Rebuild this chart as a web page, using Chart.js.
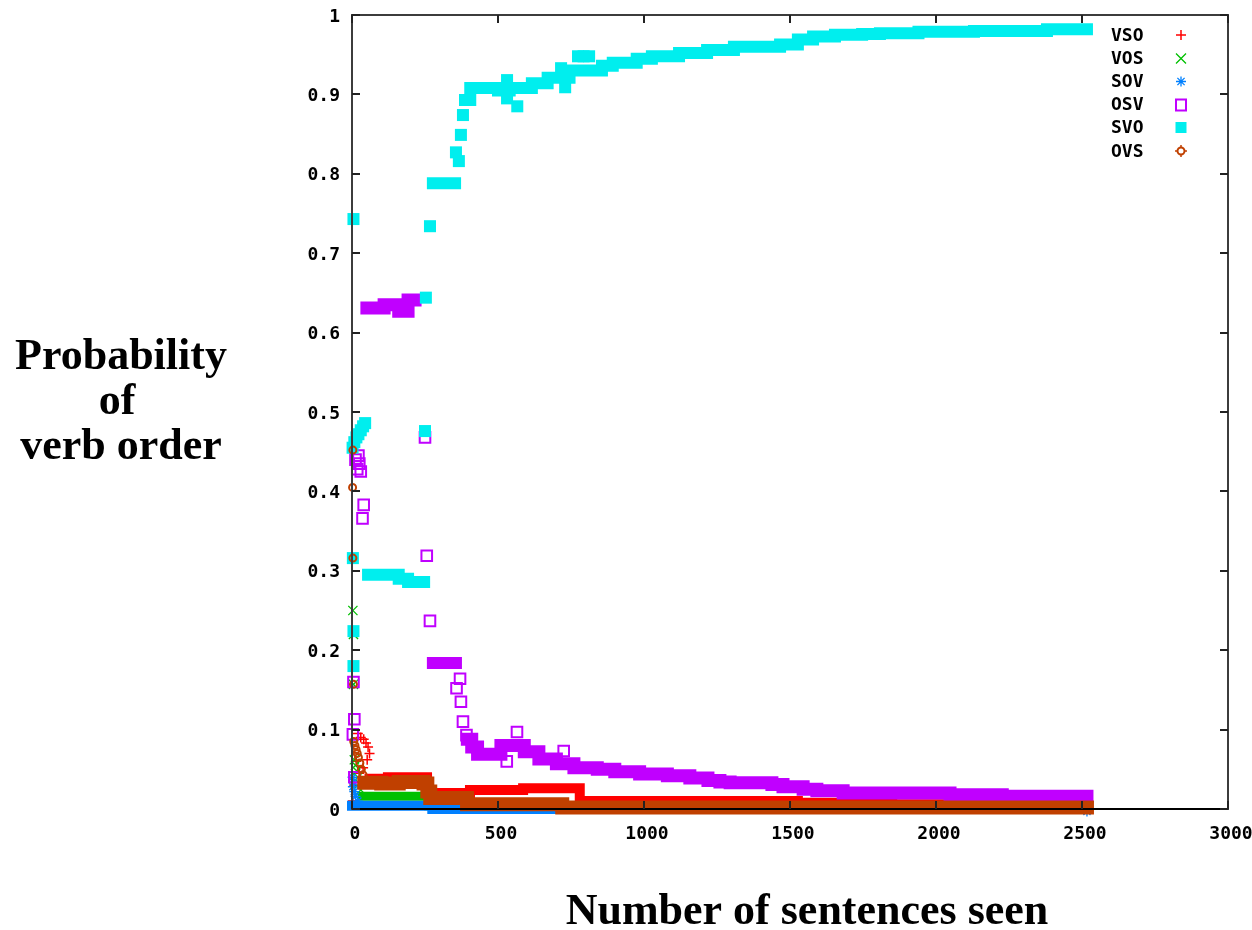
<!DOCTYPE html>
<html>
<head>
<meta charset="utf-8">
<script src="https://cdn.jsdelivr.net/npm/chart.js@4.4.1/dist/chart.umd.min.js"></script>
<style>
  html, body { margin: 0; padding: 0; background: #fff; }
  #wrap { width: 1252px; height: 930px; position: relative; }
  canvas { display: block; }
</style>
</head>
<body>
<div id="wrap"><canvas id="c" width="1252" height="930"></canvas></div>
<script>
// ---------- tick labels ----------
const xTickValues = [0, 500, 1000, 1500, 2000, 2500, 3000];
const xTickLabels = ['0', '500', '1000', '1500', '2000', '2500', '3000'];
const yTickValues = [0, 0.1, 0.2, 0.3, 0.4, 0.5, 0.6, 0.7, 0.8, 0.9, 1];
const yTickLabels = ['0', '0.1', '0.2', '0.3', '0.4', '0.5', '0.6', '0.7', '0.8', '0.9', '1'];

// ---------- series (names) ----------
const seriesNames = ['VSO', 'VOS', 'SOV', 'OSV', 'SVO', 'OVS'];

// ---------- VSO ----------
const vsoPoints = [[3,0.01],[8,0.03],[20,0.095],[30,0.09],[40,0.088],[48,0.083],[55,0.078],[60,0.07],[52,0.062],[38,0.052],[25,0.045],[15,0.06]];
const vsoBand = [[60,0.038],[123,0.04],[257,0.02],[404,0.024],[586,0.026],[780,0.01],[1527,0.008],[1850,0.006],[2190,0.004],[2517,0.004]];

// ---------- VOS ----------
const vosPoints = [[3,0.25],[5,0.22],[5,0.157],[8,0.062],[12,0.055],[16,0.048],[20,0.04],[25,0.032],[30,0.024]];
const vosBand = [[35,0.016],[245,0.016],[262,0.004],[2517,0.002]];

// ---------- SOV ----------
const sovPoints = [[2,0.04],[5,0.034],[3,0.028],[8,0.022],[12,0.016],[20,0.01],[2517,-0.003]];
const sovBand = [[0,0.004],[262,0.004],[275,0.0],[2517,0.0]];

// ---------- OSV ----------
const osvPoints = [[5,0.16],[8,0.113],[3,0.094],[8,0.04],[12,0.44],[18,0.428],[22,0.445],[25,0.435],[30,0.425],[40,0.383],[36,0.366],[250,0.468],[256,0.319],[267,0.237],[358,0.152],[370,0.164],[373,0.135],[380,0.11],[392,0.093],[530,0.06],[565,0.097],[725,0.073]];
const osvBandA = [[51,0.631],[110,0.635],[160,0.627],[192,0.641],[216,0.641]];
const osvBandB = [[277,0.184],[356,0.184]];
const osvBandC = [[395,0.088],[410,0.078],[430,0.069],[510,0.08],[560,0.08],[590,0.072],[640,0.063],[700,0.057],[760,0.052],[840,0.05],[900,0.047],[985,0.044],[1080,0.042],[1157,0.039],[1219,0.036],[1260,0.034],[1295,0.033],[1438,0.031],[1476,0.028],[1545,0.025],[1592,0.023],[1682,0.02],[2048,0.018],[2227,0.016],[2517,0.016]];

// ---------- SVO ----------
const svoPoints = [[5,0.743],[3,0.316],[5,0.224],[5,0.18],[2,0.455],[8,0.462],[15,0.468],[22,0.472],[30,0.477],[38,0.482],[45,0.486],[250,0.476],[253,0.644],[267,0.734],[356,0.827],[366,0.816],[373,0.849],[380,0.874],[531,0.918],[531,0.895],[566,0.885],[716,0.933],[730,0.909],[774,0.948],[793,0.948],[812,0.948]];
const svoBandA = [[55,0.295],[160,0.29],[192,0.286],[247,0.286]];
const svoBandB = [[277,0.788],[353,0.788]];
const svoBandC = [[387,0.893],[405,0.908],[500,0.905],[540,0.908],[616,0.914],[670,0.921],[745,0.93],[856,0.936],[893,0.94],[975,0.945],[1027,0.948],[1120,0.952],[1216,0.956],[1308,0.96],[1466,0.963],[1527,0.969],[1579,0.973],[1654,0.975],[1747,0.976],[1808,0.977],[1940,0.979],[2130,0.98],[2380,0.982],[2517,0.982]];

// ---------- OVS ----------
const ovsPoints = [[3,0.452],[2,0.405],[3,0.316],[5,0.157],[6,0.085],[10,0.08],[14,0.075],[18,0.07],[22,0.065],[27,0.058],[32,0.05],[38,0.043]];
const ovsBand = [[42,0.033],[100,0.032],[160,0.034],[245,0.032],[258,0.022],[268,0.014],[394,0.006],[720,0.002],[2517,0.002]];

// ---------- styles ----------
const COL = { VSO:'#ff0000', VOS:'#00c000', SOV:'#0080ff', OSV:'#c000ff', SVO:'#00eeee', OVS:'#c04000' };
const ORD = { VSO:6, VOS:5, SOV:4, OSV:3, SVO:2, OVS:1 };

function band(name, data, width) {
  return {
    type: 'line', label: name + ' band', data: data, order: ORD[name],
    showLine: true, stepped: true, borderColor: COL[name], backgroundColor: COL[name],
    borderWidth: width, borderCapStyle: 'square', borderJoinStyle: 'miter',
    pointRadius: 0, fill: false, clip: false, tension: 0
  };
}
function marks(name, data, style, radius, bw, filled) {
  return {
    type: 'scatter', label: name, data: data, order: ORD[name], showLine: false,
    pointStyle: style, pointRadius: radius, pointBorderWidth: bw,
    pointBorderColor: COL[name], pointBackgroundColor: filled ? COL[name] : 'rgba(0,0,0,0)',
    borderColor: COL[name], backgroundColor: filled ? COL[name] : 'rgba(0,0,0,0)',
    clip: false
  };
}

const datasets = [
  band('OVS', ovsBand, 14),
  marks('OVS', ovsPoints, 'circle', 3.5, 2, false),
  band('SVO', svoBandA, 12), band('SVO', svoBandB, 12), band('SVO', svoBandC, 12),
  marks('SVO', svoPoints, 'rect', 8.5, 0, true),
  band('OSV', osvBandA, 13), band('OSV', osvBandB, 12), band('OSV', osvBandC, 13),
  marks('OSV', osvPoints, 'rect', 7.5, 2, false),
  band('SOV', sovBand, 10),
  marks('SOV', sovPoints, 'star', 5, 1.3, false),
  band('VOS', vosBand, 9),
  marks('VOS', vosPoints, 'crossRot', 6.5, 1.3, false),
  band('VSO', vsoBand, 10),
  marks('VSO', vsoPoints, 'cross', 5, 1.5, false)
];

const tickFont = { family: '"DejaVu Sans Mono", monospace', size: 18, weight: 'bold' };

function noScalePadding(s) {
  s.paddingTop = 0; s.paddingBottom = 0; s.paddingLeft = 0; s.paddingRight = 0;
}

const framePlugin = {
  id: 'frame',
  afterDatasetsDraw(chart) {
    const { ctx, chartArea: a, scales } = chart;
    ctx.save();
    ctx.strokeStyle = '#3c3c3c';
    ctx.lineWidth = 2;
    ctx.strokeRect(a.left, a.top, a.right - a.left, a.bottom - a.top);
    ctx.strokeStyle = '#000';
    ctx.beginPath(); ctx.moveTo(a.left, a.bottom); ctx.lineTo(a.right, a.bottom); ctx.stroke();
    ctx.strokeStyle = '#222';
    ctx.lineWidth = 2;
    ctx.beginPath();
    yTickValues.forEach(v => {
      const py = Math.round(scales.y.getPixelForValue(v));
      ctx.moveTo(a.left, py); ctx.lineTo(a.left + 8, py);
      ctx.moveTo(a.right, py); ctx.lineTo(a.right - 8, py);
    });
    xTickValues.forEach(v => {
      const px = Math.round(scales.x.getPixelForValue(v));
      ctx.moveTo(px, a.bottom); ctx.lineTo(px, a.bottom - 8);
      ctx.moveTo(px, a.top); ctx.lineTo(px, a.top + 8);
    });
    ctx.stroke();
    ctx.restore();
  },
  afterDraw(chart) {
    const ctx = chart.ctx;
    ctx.save();
    // legend
    ctx.font = 'bold 18px "DejaVu Sans Mono", monospace';
    ctx.fillStyle = '#000';
    ctx.textAlign = 'left';
    ctx.textBaseline = 'middle';
    const rows = [35, 58.5, 81.5, 104.5, 127.5, 151];
    const mx = 1181;
    seriesNames.forEach((n, i) => {
      const y = rows[i];
      ctx.fillStyle = '#000';
      ctx.fillText(n, 1111, y + 1);
      const c = COL[n];
      ctx.strokeStyle = c; ctx.fillStyle = c;
      ctx.beginPath();
      if (n === 'VSO') {
        ctx.lineWidth = 1.5;
        ctx.moveTo(mx - 5, y); ctx.lineTo(mx + 5, y);
        ctx.moveTo(mx, y - 5); ctx.lineTo(mx, y + 5); ctx.stroke();
      } else if (n === 'VOS') {
        ctx.lineWidth = 1.3;
        ctx.moveTo(mx - 5, y - 5); ctx.lineTo(mx + 5, y + 5);
        ctx.moveTo(mx - 5, y + 5); ctx.lineTo(mx + 5, y - 5); ctx.stroke();
      } else if (n === 'SOV') {
        ctx.lineWidth = 1.3;
        ctx.moveTo(mx - 5, y); ctx.lineTo(mx + 5, y);
        ctx.moveTo(mx, y - 5); ctx.lineTo(mx, y + 5);
        ctx.moveTo(mx - 3.6, y - 3.6); ctx.lineTo(mx + 3.6, y + 3.6);
        ctx.moveTo(mx - 3.6, y + 3.6); ctx.lineTo(mx + 3.6, y - 3.6); ctx.stroke();
      } else if (n === 'OSV') {
        ctx.lineWidth = 2;
        ctx.strokeRect(mx - 5, y - 5, 10, 11);
      } else if (n === 'SVO') {
        ctx.fillRect(mx - 5.5, y - 5.5, 11, 11);
      } else if (n === 'OVS') {
        ctx.lineWidth = 2;
        ctx.arc(mx, y, 3.5, 0, Math.PI * 2); ctx.stroke();
        ctx.beginPath();
        ctx.lineWidth = 1.5;
        ctx.moveTo(mx, y - 6); ctx.lineTo(mx, y - 3.5);
        ctx.moveTo(mx, y + 3.5); ctx.lineTo(mx, y + 6);
        ctx.moveTo(mx - 6, y); ctx.lineTo(mx - 3.5, y);
        ctx.moveTo(mx + 3.5, y); ctx.lineTo(mx + 6, y);
        ctx.stroke();
      }
    });
    // axis titles
    ctx.fillStyle = '#000';
    ctx.font = 'bold 44px "Liberation Serif", "Times New Roman", serif';
    ctx.textAlign = 'center';
    ctx.textBaseline = 'alphabetic';
    ctx.fillText('Probability', 121, 369);
    ctx.fillText('of', 117, 414);
    ctx.fillText('verb order', 121, 459);
    ctx.fillText('Number of sentences seen', 807, 924);
    ctx.restore();
  }
};

new Chart(document.getElementById('c'), {
  type: 'scatter',
  data: { datasets },
  options: {
    responsive: false,
    animation: false,
    devicePixelRatio: 1,
    layout: { padding: { left: 0, right: 24, top: 15, bottom: 0 } },
    plugins: { legend: { display: false }, tooltip: { enabled: false }, title: { display: false } },
    scales: {
      x: {
        type: 'linear', min: 0, max: 3000, position: 'bottom',
        grid: { display: false, drawTicks: false },
        border: { display: false },
        afterBuildTicks: s => { s.ticks = xTickValues.map(v => ({ value: v })); },
        afterFit: s => { s.height = 121; noScalePadding(s); },
        ticks: {
          font: tickFont, color: '#000', padding: 15, labelOffset: 3, maxRotation: 0, autoSkip: false,
          callback: (v, i) => xTickLabels[i]
        }
      },
      y: {
        type: 'linear', min: 0, max: 1, position: 'left',
        grid: { display: false, drawTicks: false },
        border: { display: false },
        afterBuildTicks: s => { s.ticks = yTickValues.map(v => ({ value: v })); },
        afterFit: s => { s.width = 352; noScalePadding(s); },
        ticks: {
          font: tickFont, color: '#000', padding: 12, labelOffset: 2, autoSkip: false,
          callback: (v, i) => yTickLabels[i]
        }
      }
    }
  },
  plugins: [framePlugin]
});
</script>
</body>
</html>
